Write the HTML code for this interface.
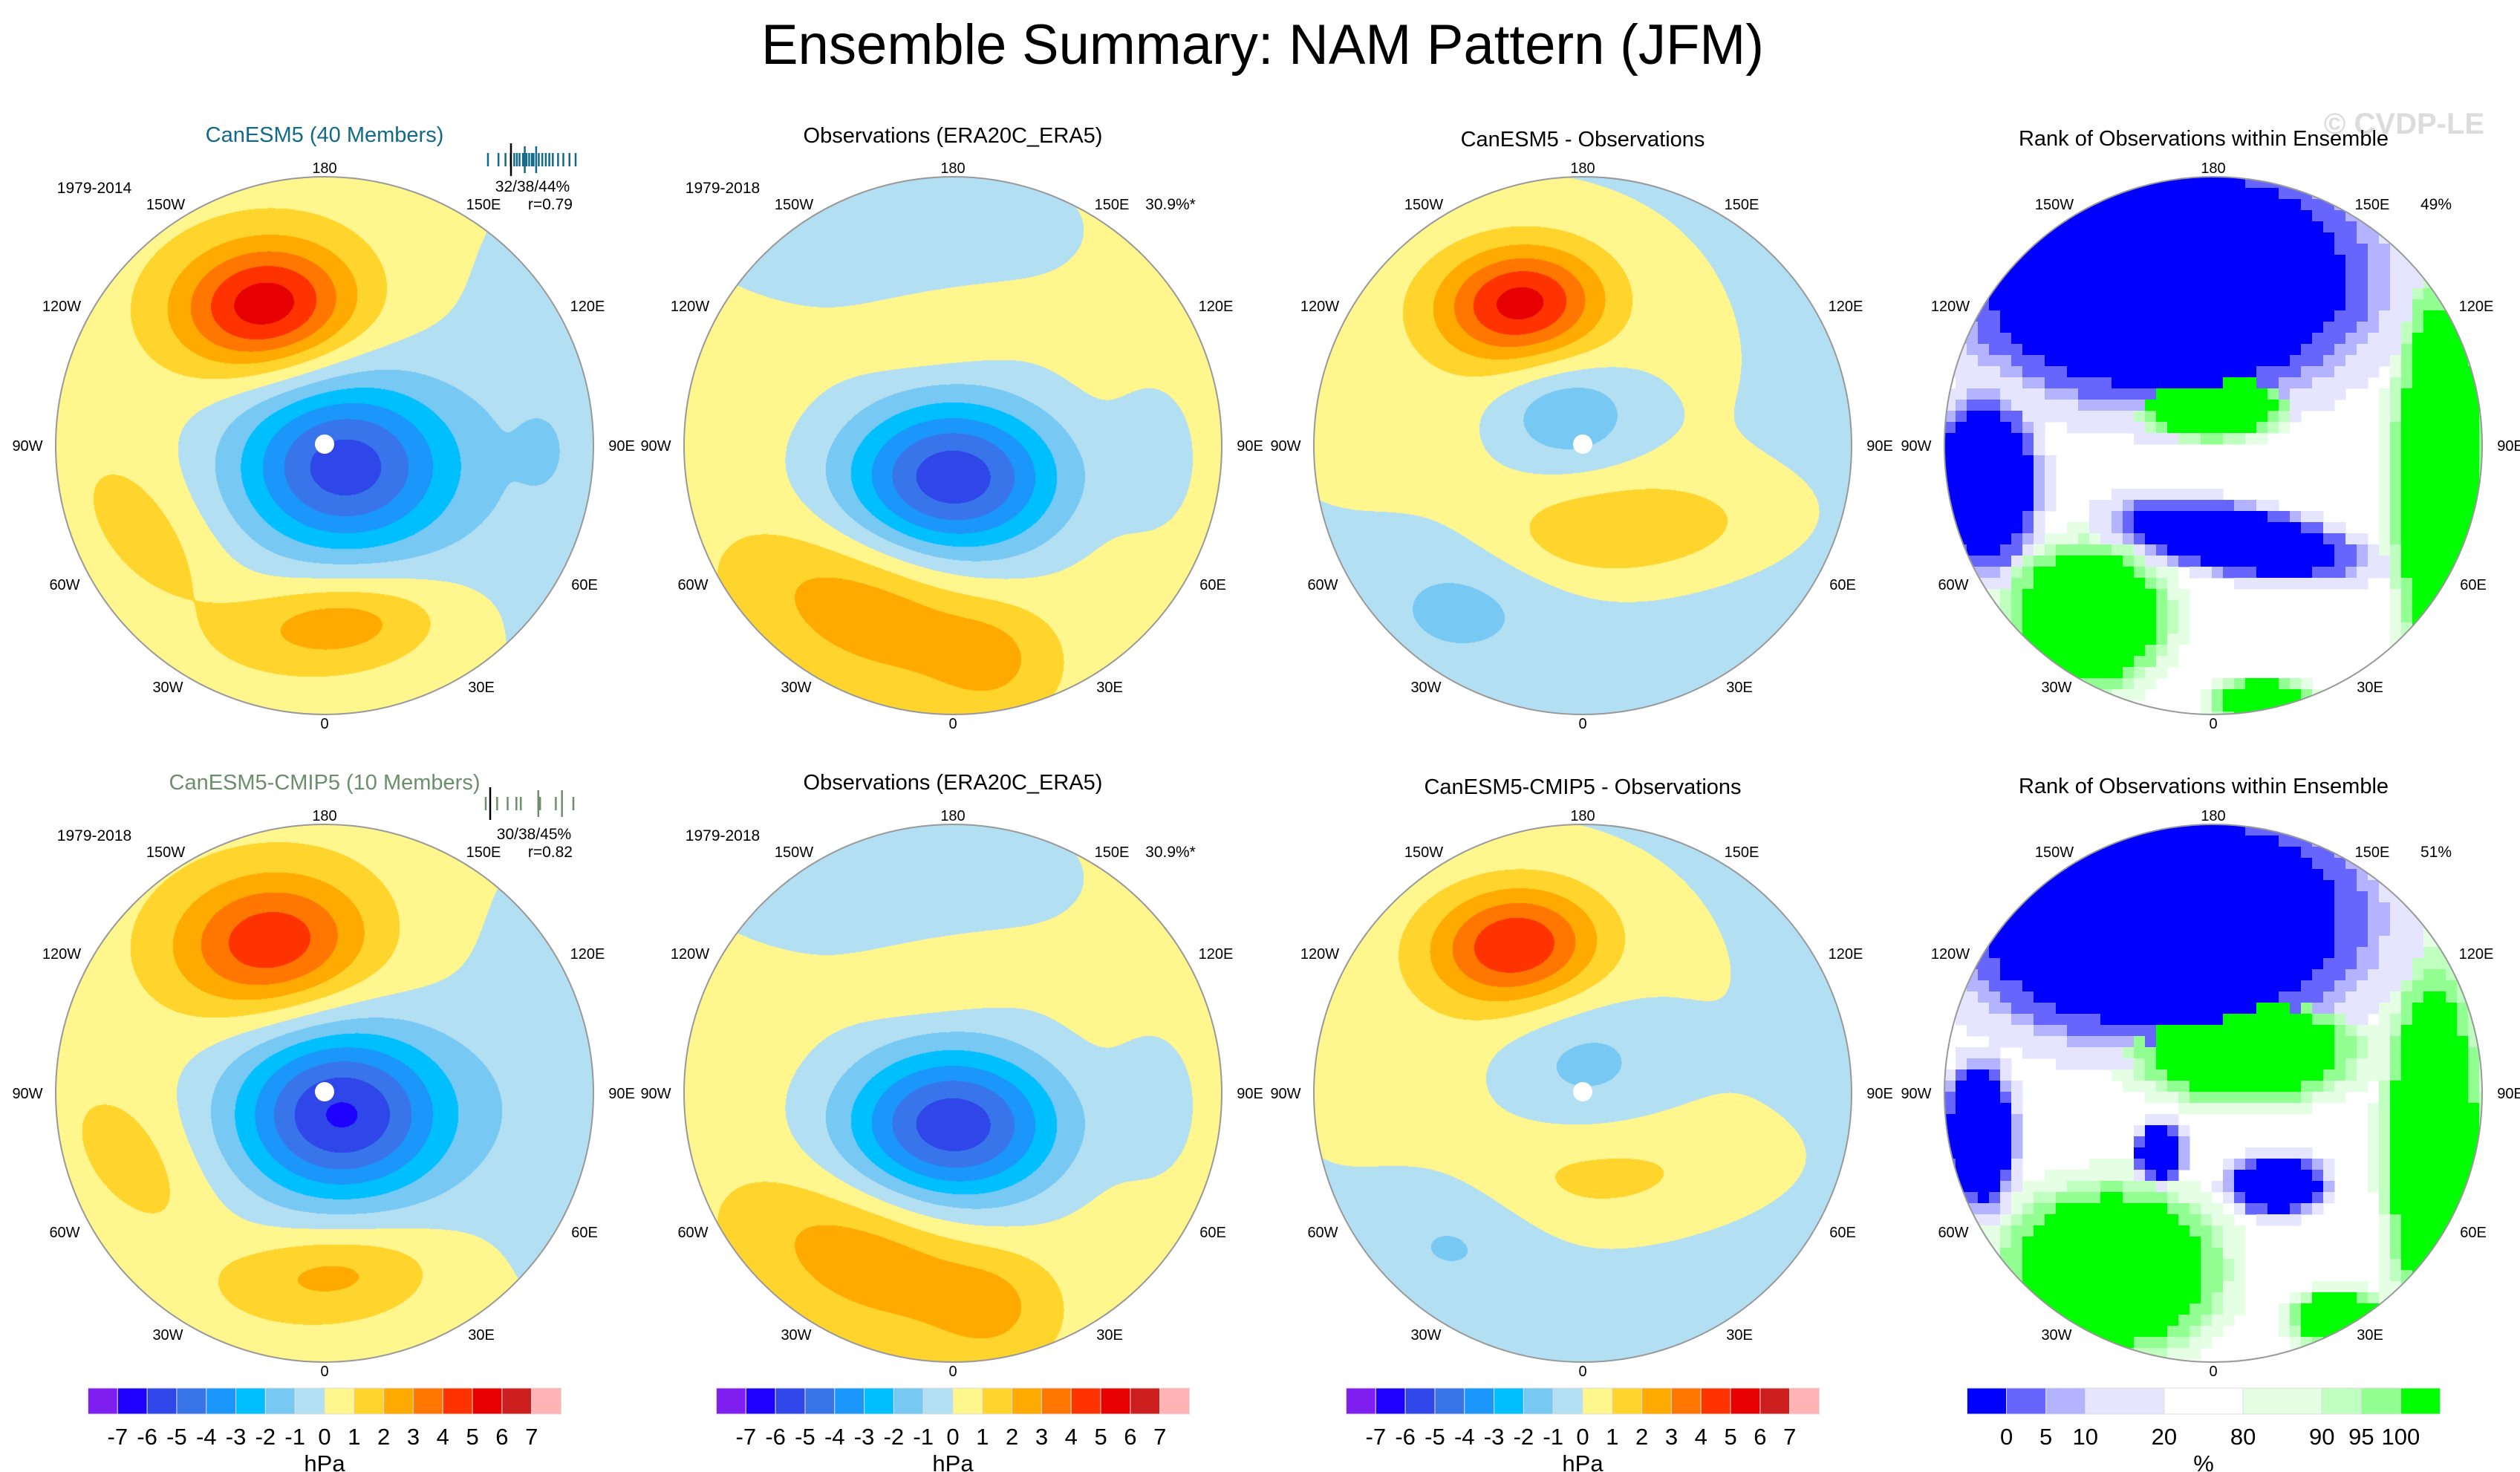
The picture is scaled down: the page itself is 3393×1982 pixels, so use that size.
<!DOCTYPE html>
<html><head><meta charset="utf-8"><style>
html,body{margin:0;padding:0;background:#fff;}
#wrap{position:relative;width:3393px;height:1982px;overflow:hidden;background:#fff;}
canvas{position:absolute;}
svg{position:absolute;left:0;top:0;display:block;font-family:"Liberation Sans",sans-serif;}
</style></head><body>
<div id="wrap">
<svg id="fig" xmlns="http://www.w3.org/2000/svg" width="3393" height="1982" viewBox="0 0 3393 1982">
<text x="1700" y="86" font-size="76" text-anchor="middle" fill="#000" textLength="1350" lengthAdjust="spacingAndGlyphs">Ensemble Summary: NAM Pattern (JFM)</text>
<text x="3237" y="180" font-size="40" font-weight="bold" text-anchor="middle" fill="#dcdcdc">© CVDP-LE</text>
<g id="panels"></g>
</svg>
</div>
<script>
// ---------- data ----------
const levelColors = ["#7e1fef","#1e00ff","#2f46e8","#3875eb","#1b96fa","#00bfff","#77c8f2","#b3dff3","#fff68e","#ffd42d","#ffaa00","#ff7700","#ff3300","#e60000","#cc1e1e","#ffb3b3"];
const levelTicks = ["-7","-6","-5","-4","-3","-2","-1","0","1","2","3","4","5","6","7"];
const rankColors = ["#0000ff","#6666ff","#b3b3ff","#e5e5ff","#ffffff","#e5ffe5","#bfffbf","#91ff91","#00ff00"];
const rankWidths = [1,1,1,2,2,2,1,1,1];
const rankTicks = ["0","5","10","20","80","90","95","100"];
const lonLabels = ["180","150E","120E","90E","60E","30E","0","30W","60W","90W","120W","150W"];
const colCenters = [437,1283,2131,2980];
const rowCenters = [600,1472];
// anomaly centres: [cx, cy, rx, ry, rotDeg, amplitude hPa] (fractions of radius)
const p1Features = [[0.86,-0.04,0.4,0.95,0,-1.0],[0.8,0.02,0.06,0.09,0,-0.9],[-0.22,-0.52,0.5,0.36,-5,5.2],[0.07,0.08,0.64,0.52,0,-6.0],[-0.65,0.32,0.28,0.15,50,1.0],[0.05,0.66,0.45,0.2,-5,2.3]];
const p2Features = [[-0.25,-0.8,0.72,0.3,0,-1.0],[0.75,0.04,0.13,0.22,0,-1.0],[-0.05,-0.42,0.25,0.1,-10,1.0],[0,0.12,0.64,0.46,0,-6.2],[-0.3,0.62,0.6,0.32,20,2.3],[0.15,0.8,0.2,0.18,0,1.2]];
const p3Features = [[-0.35,-0.3,0.92,0.68,0,1.0],[-0.23,-0.53,0.46,0.32,-5,5.0],[-0.06,-0.12,0.32,0.24,0,-2.2],[0.15,0.32,0.62,0.22,-5,2.0],[-0.44,0.55,0.32,0.24,0,-1.2]];
const p5Features = [[0.86,-0.07,0.36,0.85,0,-1.0],[-0.2,-0.56,0.52,0.37,-5,4.3],[0.06,0.08,0.64,0.52,0,-6.6],[-0.7,0.25,0.26,0.15,50,1.0],[0.03,0.67,0.42,0.19,-5,1.9]];
const p6Features = [[-0.25,-0.8,0.72,0.3,0,-1.0],[0.75,0.04,0.13,0.22,0,-1.0],[-0.05,-0.42,0.25,0.1,-10,1.0],[0,0.12,0.64,0.46,0,-6.2],[-0.3,0.62,0.6,0.32,20,2.3],[0.15,0.8,0.2,0.18,0,1.2]];
const p7Features = [[-0.35,-0.3,0.92,0.68,0,1.0],[-0.25,-0.55,0.46,0.32,-5,4.6],[0,-0.12,0.35,0.27,0,-1.6],[0.06,0.32,0.6,0.2,-5,1.3],[-0.47,0.5,0.3,0.22,0,-1.2]];
// rank features: [cx, cy, rx, ry, rotDeg, sign]
const r1Features = [[-0.18,-0.62,0.86,0.52,0,-1],[-0.85,0.14,0.22,0.35,0,-1],[0.09,0.35,0.5,0.14,10,-1],[0.85,0.14,0.2,0.85,0,1],[-0.47,0.64,0.33,0.3,0,1],[0,-0.15,0.3,0.14,0,1],[0.18,0.96,0.2,0.1,0,1]];
const r2Features = [[-0.2,-0.64,0.86,0.5,0,-1],[-0.87,0.16,0.15,0.3,0,-1],[0.24,0.34,0.2,0.12,0,-1],[-0.2,0.22,0.1,0.12,0,-1],[0.12,-0.16,0.45,0.22,0,1],[-0.38,0.66,0.45,0.35,0,1],[0.82,0.2,0.2,0.75,0,1],[0.47,0.84,0.2,0.12,0,1]];
const spec1 = [0,0.12,0.2,0.26,0.3,0.33,0.36,0.4,0.42,0.44,0.47,0.5,0.52,0.55,0.58,0.62,0.66,0.7,0.74,0.8,0.86,0.93,1];
const spec2 = [0,0.13,0.25,0.35,0.4,0.6,0.62,0.8,0.87,1];
const R = 362;
const NS = "http://www.w3.org/2000/svg";
const root = document.getElementById('panels');
const wrap = document.getElementById('wrap');
function mk(tag, attrs, parent){const e=document.createElementNS(NS,tag);for(const k in attrs)e.setAttribute(k,attrs[k]);(parent||root).appendChild(e);return e;}
function hex(c){return [parseInt(c.substr(1,2),16),parseInt(c.substr(3,2),16),parseInt(c.substr(5,2),16)];}
const rgbLevels = levelColors.map(hex);
function drawContours(cx, cy, feats, base, name, dot){
  const S=2*R+2;
  const cv=document.createElement('canvas');
  cv.width=S; cv.height=S;
  cv.style.left=(cx-R-1)+'px'; cv.style.top=(cy-R-1)+'px';
  
  
  wrap.insertBefore(cv, wrap.firstChild);
  const ctx=cv.getContext('2d'); const img=ctx.createImageData(S,S); const d=img.data;
  const pre=feats.map(f=>{const [fx,fy,rx,ry,rot,A]=f;const a=-rot*Math.PI/180;
    return {fx,fy,rx,ry,c:Math.cos(a),s:Math.sin(a),A,k:Math.log(Math.max(Math.abs(A),0.75)/0.6)+0.15};});
  for(let j=0;j<S;j++){for(let i=0;i<S;i++){
    const px=(i-R-1+0.5)/R, py=(j-R-1+0.5)/R;
    const rr=px*px+py*py; if(rr>1.0) continue;
    let v=base;
    for(const f of pre){const dx=px-f.fx, dy=py-f.fy;
      const ux=(dx*f.c-dy*f.s)/f.rx, uy=(dx*f.s+dy*f.c)/f.ry;
      v+=f.A*Math.exp(-f.k*(ux*ux+uy*uy));}
    let idx=8+Math.floor(v); idx=Math.max(0,Math.min(15,idx));
    const col=rgbLevels[idx]; const o=(j*S+i)*4;
    d[o]=col[0];d[o+1]=col[1];d[o+2]=col[2];d[o+3]=255;
  }}
  ctx.putImageData(img,0,0);
  if(dot){ const e=mk('circle',{cx:cx,cy:cy-2,r:13,fill:'#fff'});
      }
  const b=mk('circle',{cx:cx,cy:cy,r:R,fill:'none',stroke:'#999','stroke-width':2});
   
}
let clipId=0;
function drawRank(cx, cy, feats, name){
  const g = mk('g',{});
  
  
  const id='clip'+(clipId++);
  const cp = mk('clipPath',{id:id},g); mk('circle',{cx:cx,cy:cy,r:R},cp);
  const inner = mk('g',{'clip-path':'url(#'+id+')'},g);
  mk('circle',{cx:cx,cy:cy,r:R,fill:'#fff'},inner);
  const step=15;
  for(let y=cy-R;y<cy+R;y+=step){
    for(let x=cx-R;x<cx+R;x+=step){
      const px=(x+step/2-cx)/R, py=(y+step/2-cy)/R;
      if(px*px+py*py>1.05) continue;
      let best=0, bs=0;
      feats.forEach(f=>{
        const [fx,fy,rx,ry,rot,sg]=f; const a=-rot*Math.PI/180;
        const dx=px-fx, dy=py-fy;
        const ux=dx*Math.cos(a)-dy*Math.sin(a), uy=dx*Math.sin(a)+dy*Math.cos(a);
        const dd=Math.sqrt((ux/rx)**2+(uy/ry)**2);
        const st = dd<0.78?4:dd<0.9?3:dd<0.98?2:dd<1.15?1:0;
        if(st>best){best=st;bs=sg;}
      });
      if(best===0) continue;
      const c = bs<0 ? rankColors[4-best] : rankColors[4+best];
      const r = mk('rect',{x:x,y:y,width:step+0.5,height:step+0.5,fill:c},inner);
      
      
    }
  }
  mk('circle',{cx:cx,cy:cy,r:R,fill:'none',stroke:'#999','stroke-width':2},g);
}
function lonLabelsAt(cx, cy){
  const pos=[[0,-374],[214,-325],[354,-188],[400,0],[350,187],[211,325],[0,374],[-211,325],[-350,187],[-400,0],[-354,-188],[-214,-325]];
  lonLabels.forEach((l,i)=>{
    const t=mk('text',{x:cx+pos[i][0],y:cy+pos[i][1]+7,'font-size':20,'text-anchor':'middle',fill:'#000'});
    t.textContent=l;
    
    
  });
}
function txt(x,y,s,size,anchor,fill,name){
  const t=mk('text',{x:x,y:y,'font-size':size,'text-anchor':anchor||'middle',fill:fill||'#000'});
  t.textContent=s;
  
  
  return t;
}
function spectrum(x0,x1,y,vals,color,tallIdx,blackX){
  vals.forEach((v,i)=>{
    const x=x0+(x1-x0)*v; const tall=tallIdx.includes(i);
    const l=mk('line',{x1:x,x2:x,y1:tall?y-18:y-9,y2:tall?y+18:y+9,stroke:color,'stroke-width':2.5});
    
    
  });
  const b=mk('line',{x1:blackX,x2:blackX,y1:y-22,y2:y+22,stroke:'#000','stroke-width':2.5});
  
  
}
function colorbar(cx, y, colors, widths, ticks, tickIdx, unit, name){
  const total=widths.reduce((a,b)=>a+b,0), W=637, x0=cx-W/2;
  const g=mk('g',{});
  
  
  let acc=0; const bounds=[0];
  colors.forEach((c,i)=>{
    const x=x0+W*acc/total; const w=W*widths[i]/total;
    const r=mk('rect',{x:x,y:y,width:w,height:35,fill:c,stroke:'#ddd','stroke-width':1},g);
    
    
    acc+=widths[i]; bounds.push(acc);
  });
  ticks.forEach((t,i)=>{
    const x=x0+W*bounds[tickIdx[i]]/total;
    const e=mk('text',{x:x,y:y+76,'font-size':31,'text-anchor':'middle',fill:'#000'},g);
    e.textContent=t;
    
    
  });
  const u=mk('text',{x:cx,y:y+112,'font-size':31,'text-anchor':'middle',fill:'#000'},g);
  u.textContent=unit;
  
  
}
// ---------- panels ----------
const C=colCenters, Y=rowCenters;
drawContours(C[0],Y[0],p1Features,0.5,'canesm5-map',true);
drawContours(C[1],Y[0],p2Features,0.5,'observations-map-top',false);
drawContours(C[2],Y[0],p3Features,-0.5,'difference-map-top',true);
drawRank(C[3],Y[0],r1Features,'rank-map-top');
drawContours(C[0],Y[1],p5Features,0.5,'cmip5-map',true);
drawContours(C[1],Y[1],p6Features,0.5,'observations-map-bottom',false);
drawContours(C[2],Y[1],p7Features,-0.5,'difference-map-bottom',true);
drawRank(C[3],Y[1],r2Features,'rank-map-bottom');
for(let r=0;r<2;r++) for(let c=0;c<4;c++) lonLabelsAt(C[c],Y[r]);
// titles
txt(437,191,'CanESM5 (40 Members)',29,'middle','#13698a','panel-title');
txt(1283,192,'Observations (ERA20C_ERA5)',29,'middle','#000','panel-title');
txt(2131,197,'CanESM5 - Observations',29,'middle','#000','panel-title');
txt(2967,196,'Rank of Observations within Ensemble',29,'middle','#000','panel-title');
txt(437,1063,'CanESM5-CMIP5 (10 Members)',29,'middle','#6b8f6b','panel-title');
txt(1283,1063,'Observations (ERA20C_ERA5)',29,'middle','#000','panel-title');
txt(2131,1069,'CanESM5-CMIP5 - Observations',29,'middle','#000','panel-title');
txt(2967,1068,'Rank of Observations within Ensemble',29,'middle','#000','panel-title');
// annotations
txt(C[0]-310,Y[0]-340,'1979-2014',21,'middle','#000','period-label');
txt(C[1]-310,Y[0]-340,'1979-2018',21,'middle','#000','period-label');
txt(C[0]-310,Y[1]-340,'1979-2018',21,'middle','#000','period-label');
txt(C[1]-310,Y[1]-340,'1979-2018',21,'middle','#000','period-label');
txt(C[0]+280,Y[0]-342,'32/38/44%',21,'middle','#000','pattern-stats');
txt(C[0]+334,Y[0]-318,'r=0.79',21,'end','#000','pattern-correlation');
txt(C[0]+282,Y[1]-342,'30/38/45%',21,'middle','#000','pattern-stats');
txt(C[0]+334,Y[1]-318,'r=0.82',21,'end','#000','pattern-correlation');
txt(C[1]+293,Y[0]-318,'30.9%*',21,'middle','#000','variance-explained');
txt(C[1]+293,Y[1]-318,'30.9%*',21,'middle','#000','variance-explained');
txt(C[3]+300,Y[0]-318,'49%',21,'middle','#000','rank-percent');
txt(C[3]+300,Y[1]-318,'51%',21,'middle','#000','rank-percent');
spectrum(657,775,215,spec1,'#13698a',[8,13],688);
spectrum(654,772,1082,spec2,'#6b8f6b',[5,8],660);
// colorbars
const lvlIdx=[1,2,3,4,5,6,7,8,9,10,11,12,13,14,15];
const lvlW=levelColors.map(()=>1);
colorbar(C[0],1869,levelColors,lvlW,levelTicks,lvlIdx,'hPa','colorbar-canesm5');
colorbar(C[1],1869,levelColors,lvlW,levelTicks,lvlIdx,'hPa','colorbar-observations');
colorbar(C[2],1869,levelColors,lvlW,levelTicks,lvlIdx,'hPa','colorbar-difference');
colorbar(2967,1869,rankColors,rankWidths,rankTicks,[1,2,3,4,5,6,7,8],'%','colorbar-rank');
</script>
</body></html>
